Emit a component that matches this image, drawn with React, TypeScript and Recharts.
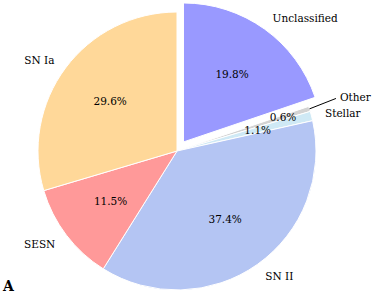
import { PieChart, Pie, Cell, Sector } from "recharts";

const categories = ["Unclassified", "Other", "Stellar", "SN II", "SESN", "SN Ia"];
const shares = [19.8, 0.6, 1.1, 37.4, 11.5, 29.6];
const sliceColors = ["#9999ff", "#d3d3d3", "#cfe9f5", "#b4c5f3", "#ff9999", "#ffd899"];

// explode / label tweaks (fraction of radius)
const EXPLODE: Record<string, number> = { Unclassified: 0.08 };
const PCT_DIST: Record<string, number> = { Other: 0.8 };

const data = categories.map((name, i) => ({ name, value: shares[i] }));

const RAD = Math.PI / 180;
const CX = 177;
const CY = 151;
const R = 139;

const serif = "'DejaVu Serif', serif";

function shift(name: string, midAngle: number, r: number) {
  const d = (EXPLODE[name] ?? 0) * r;
  return { dx: d * Math.cos(-midAngle * RAD), dy: d * Math.sin(-midAngle * RAD) };
}

const renderSlice = (props: any) => {
  const { dx, dy } = shift(props.name, props.midAngle, props.outerRadius);
  return <Sector {...props} cx={props.cx + dx} cy={props.cy + dy} />;
};

const renderLabel = (props: any) => {
  const { cx, cy, midAngle, outerRadius, name, value } = props;
  const { dx, dy } = shift(name, midAngle, outerRadius);
  const ox = cx + dx;
  const oy = cy + dy;
  const cos = Math.cos(-midAngle * RAD);
  const sin = Math.sin(-midAngle * RAD);
  const pd = PCT_DIST[name] ?? 0.6;
  const px = ox + outerRadius * pd * cos;
  const py = oy + outerRadius * pd * sin;

  let nameEl;
  if (name === "Other") {
    nameEl = (
      <g>
        <line
          x1={ox + outerRadius * 1.0 * cos}
          y1={oy + outerRadius * 1.0 * sin}
          x2={ox + outerRadius * 1.2 * cos}
          y2={oy + outerRadius * 1.2 * sin - 2}
          stroke="#000"
          strokeWidth={1}
        />
        <text
          x={ox + outerRadius * 1.23 * cos}
          y={oy + outerRadius * 1.23 * sin - 2}
          textAnchor="start"
          dominantBaseline="central"
          fontFamily={serif}
          fontSize={10.5}
          fill="#000"
        >
          {name}
        </text>
      </g>
    );
  } else {
    const lx = ox + outerRadius * 1.1 * cos;
    const ly = oy + outerRadius * 1.1 * sin;
    nameEl = (
      <text
        x={lx}
        y={ly}
        textAnchor={cos >= 0 ? "start" : "end"}
        dominantBaseline="central"
        fontFamily={serif}
        fontSize={10.5}
        fill="#000"
      >
        {name}
      </text>
    );
  }

  return (
    <g>
      <text
        x={px}
        y={py}
        textAnchor="middle"
        dominantBaseline="central"
        fontFamily={serif}
        fontSize={10.5}
        fill="#000"
      >
        {value.toFixed(1)}%
      </text>
      {nameEl}
    </g>
  );
};

export default function App() {
  return (
    <div
      style={{
        position: "absolute",
        left: 0,
        top: 0,
        width: 374,
        height: 301,
        background: "#fff",
      }}
    >
      <PieChart width={374} height={301} margin={{ top: 0, right: 0, bottom: 0, left: 0 }}>
        <Pie
          data={data}
          dataKey="value"
          nameKey="name"
          cx={CX}
          cy={CY}
          innerRadius={0}
          outerRadius={R}
          startAngle={90}
          endAngle={-270}
          stroke="#fff"
          strokeWidth={1}
          label={renderLabel}
          labelLine={false}
          shape={renderSlice}
          isAnimationActive={false}
        >
          {data.map((d, i) => (
            <Cell key={d.name} fill={sliceColors[i]} />
          ))}
        </Pie>
      </PieChart>
      <div
        style={{
          position: "absolute",
          left: 3,
          top: 278,
          fontFamily: serif,
          fontWeight: "bold",
          fontSize: 14,
          color: "#000",
        }}
      >
        A
      </div>
    </div>
  );
}
